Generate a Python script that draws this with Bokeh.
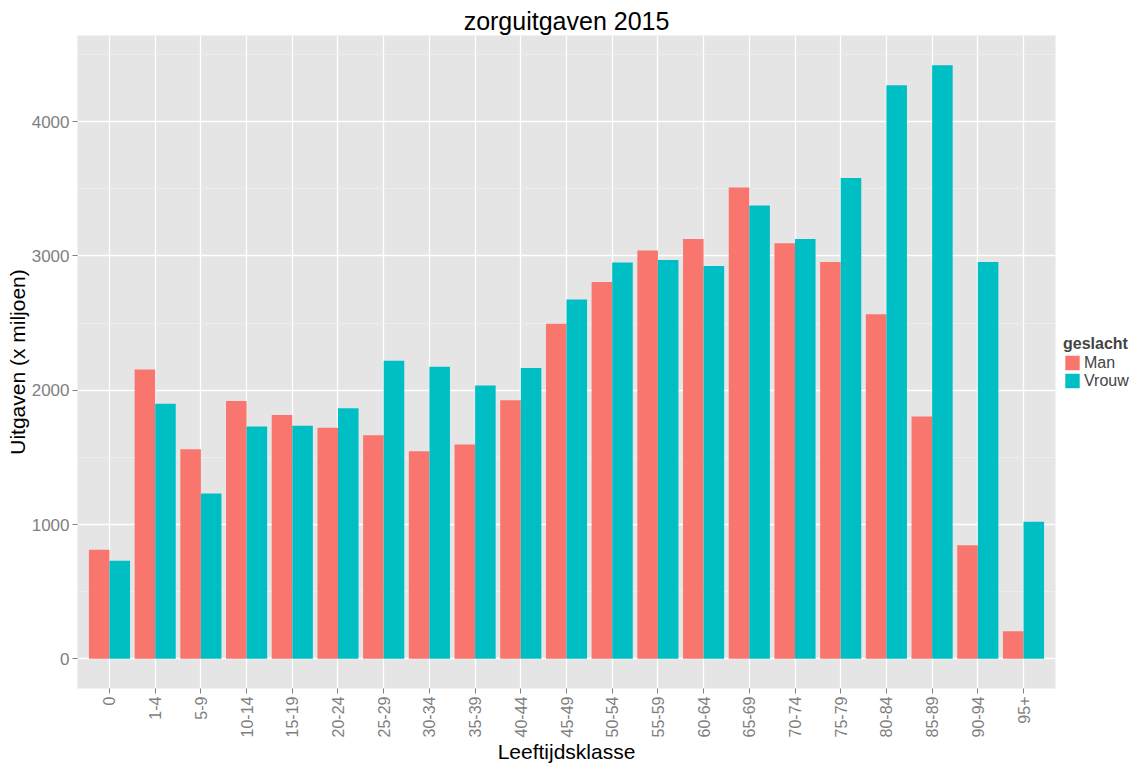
import math
from bokeh.plotting import figure
from bokeh.models import (FactorRange, Range1d, SingleIntervalTicker, Legend,
                          LegendItem, ColumnDataSource)
from bokeh.transform import dodge
from bokeh.embed import file_html
from bokeh.resources import INLINE

categories = ["0", "1-4", "5-9", "10-14", "15-19", "20-24", "25-29", "30-34",
              "35-39", "40-44", "45-49", "50-54", "55-59", "60-64", "65-69",
              "70-74", "75-79", "80-84", "85-89", "90-94", "95+"]
man = [812, 2155, 1560, 1920, 1815, 1720, 1665, 1545, 1595, 1925, 2495,
       2805, 3040, 3125, 3510, 3095, 2955, 2565, 1805, 845, 205]
vrouw = [730, 1900, 1230, 1730, 1735, 1865, 2220, 2175, 2035, 2165, 2675,
         2950, 2970, 2925, 3375, 3125, 3580, 4270, 4420, 2955, 1020]

FONT = "Liberation Sans"
GREY = "#7F7F7F"

p = figure(frame_width=978, frame_height=653, output_backend="svg",
           toolbar_location=None,
           x_range=FactorRange(*categories, range_padding=0.2,
                               range_padding_units="absolute"),
           y_range=Range1d(-221, 4641),
           background_fill_color="#E5E5E5", border_fill_color="white",
           outline_line_color=None,
           min_border_left=77, min_border_right=0, min_border_top=35,
           min_border_bottom=70)

p.title.text = "zorguitgaven 2015"
p.title.align = "center"
p.title.text_font = FONT
p.title.text_font_size = "25px"
p.title.text_font_style = "normal"
p.title.text_color = "black"
p.title.standoff = 1

src = ColumnDataSource(dict(cat=categories, man=man, vrouw=vrouw))
r1 = p.vbar(x=dodge("cat", -0.225, range=p.x_range), top="man", width=0.45,
            source=src, fill_color="#F8766D", line_color=None)
r2 = p.vbar(x=dodge("cat", 0.225, range=p.x_range), top="vrouw", width=0.45,
            source=src, fill_color="#00BFC4", line_color=None)

p.yaxis.ticker = SingleIntervalTicker(interval=1000, num_minor_ticks=2)

for ax in (p.xaxis[0], p.yaxis[0]):
    ax.axis_line_color = None
    ax.major_tick_line_color = GREY
    ax.major_tick_out = 5
    ax.major_tick_in = 0
    ax.minor_tick_line_color = None
    ax.major_label_text_font = FONT
    ax.major_label_text_color = GREY
    ax.axis_label_text_font = FONT
    ax.axis_label_text_font_size = "21px"
    ax.axis_label_text_font_style = "normal"
    ax.axis_label_text_color = "black"

p.xaxis.axis_label = "Leeftijdsklasse"
p.xaxis.major_label_text_font_size = "16px"
p.xaxis.major_label_orientation = math.pi / 2
p.xaxis.major_label_standoff = 3
p.xaxis.axis_label_standoff = 0
p.yaxis.axis_label = "Uitgaven (x miljoen)"
p.yaxis.major_label_text_font_size = "17px"
p.yaxis.major_label_standoff = 3
p.yaxis.axis_label_standoff = 0

p.xgrid.grid_line_color = "white"
p.xgrid.grid_line_width = 1.3
p.ygrid.grid_line_color = "white"
p.ygrid.grid_line_width = 1.3
p.ygrid.minor_grid_line_color = "#F0F0F0"
p.ygrid.minor_grid_line_width = 0.7

legend = Legend(items=[LegendItem(label="Man", renderers=[r1]),
                       LegendItem(label="Vrouw", renderers=[r2])],
                title="geslacht", location="center_left")
legend.title_text_font = FONT
legend.title_text_font_style = "bold"
legend.title_text_font_size = "16px"
legend.label_text_font = FONT
legend.label_text_font_size = "16px"
legend.glyph_width = 18
legend.glyph_height = 18
legend.label_height = 18
legend.spacing = 0
legend.padding = 0
legend.margin = 8
legend.label_standoff = 3
legend.title_standoff = 1
legend.border_line_color = None
legend.background_fill_alpha = 0
p.add_layout(legend, "right")

open("out.html", "w").write(file_html(p, INLINE))
